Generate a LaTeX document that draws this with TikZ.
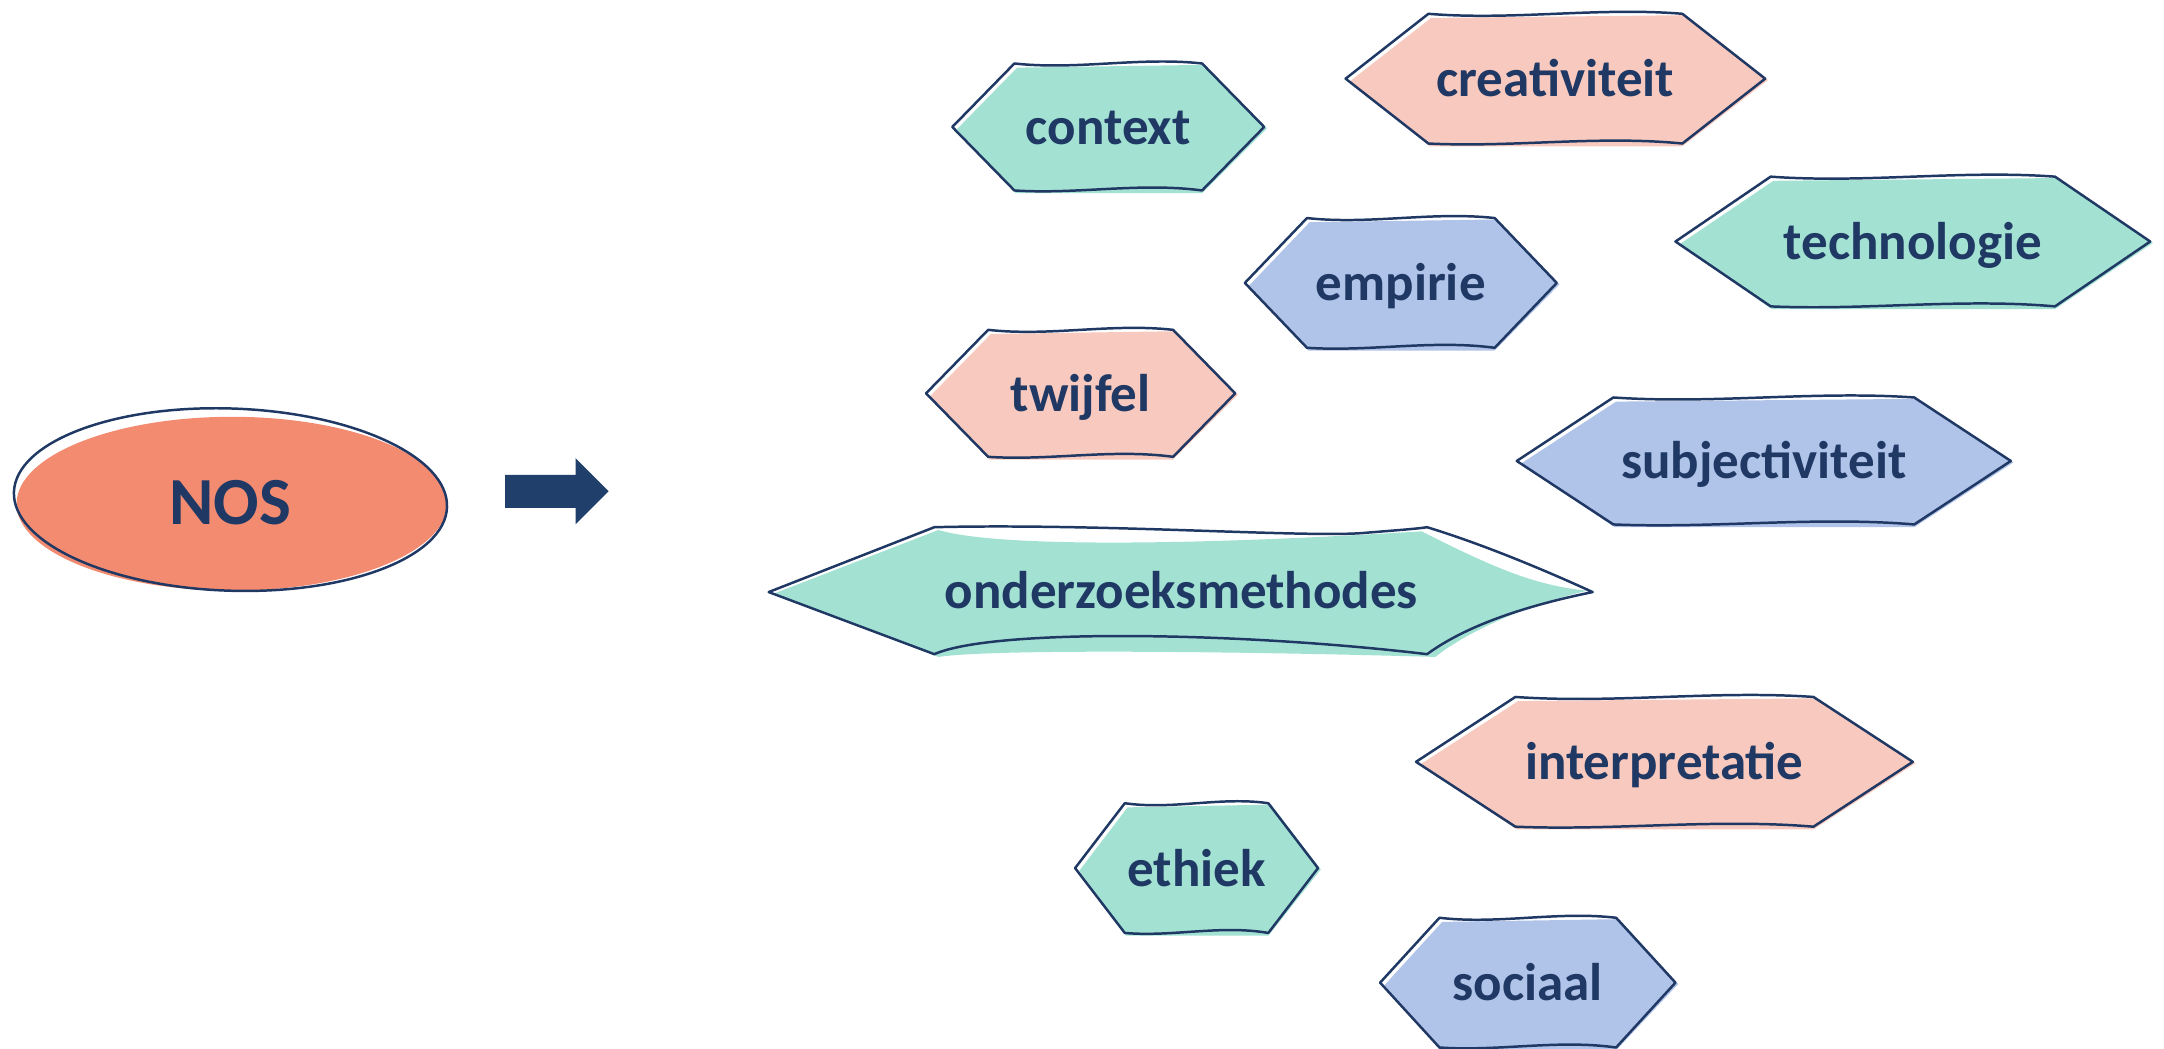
\documentclass[tikz,border=0pt]{standalone}
\usepackage{fontspec}
\setmainfont{Carlito}
\definecolor{navy}{HTML}{1F3864}
\definecolor{arrowc}{HTML}{203F6A}
\definecolor{salmon}{HTML}{F38B71}
\definecolor{pinkc}{HTML}{F8C9BE}
\definecolor{greenc}{HTML}{A3E2D3}
\definecolor{bluec}{HTML}{B0C3E8}
\tikzset{
  outl/.style={draw=navy, line width=0.9pt, line join=round},
  lbl/.style={anchor=base, inner sep=0pt, text=navy, font=\fontsize{19.2}{22}\selectfont\bfseries},
  noslbl/.style={anchor=base, inner sep=0pt, text=navy, font=\fontsize{24.4}{28}\selectfont\bfseries},
}
\newcommand{\hexnode}[8]{% #1 name, #2 cx, #3 cy, #4 w, #5 a, #6 h, #7 fill, #8 text
  \fill[#7] ({#2-#4+3},{#3+2}) -- ({#2-#5+2},{#3-#6+3}) -- ({#2+#5+2},{#3-#6+1}) -- ({#2+#4+2},{#3+1}) -- ({#2+#5},{#3+#6+2}) -- ({#2-#5+1},{#3+#6+2}) -- cycle;
  \draw[outl] ({#2-#4},{#3}) -- ({#2-#5},{#3-#6})
    .. controls ({#2-#5/3},{#3-#6+5}) and ({#2+#5/3},{#3-#6-5}) .. ({#2+#5},{#3-#6})
    -- ({#2+#4},{#3}) -- ({#2+#5},{#3+#6})
    .. controls ({#2+#5/3},{#3+#6-6}) and ({#2-#5/3},{#3+#6+3}) .. ({#2-#5},{#3+#6})
    -- cycle;
  \node[lbl] (#1) at (#2,{#3+13}) {#8};
}
\begin{document}
\begin{tikzpicture}[x=0.5pt,y=-0.5pt]
\useasboundingbox (0,0) rectangle (1568,759.4);
% NOS ellipse
\fill[salmon] (168,365) ellipse [x radius=156, y radius=63];
\draw[outl, rotate around={-2:(167,362)}] (167,362) ellipse [x radius=157, y radius=66];
\node[noslbl] (nos) at (167,380) {NOS};
% arrow
\coordinate (arrtail) at (366,356);
\coordinate (arrtip) at (441,356);
\fill[arrowc] (366,344) -- (417,344) -- (417,332) -- (arrtip) -- (417,380) -- (417,368) -- (366,368) -- cycle;
% hexagons
\hexnode{context}{803}{92}{113}{68}{46}{greenc}{context}
\hexnode{creativiteit}{1127}{57}{152}{92}{47}{pinkc}{creativiteit}
\hexnode{empirie}{1015}{205}{113}{68}{47}{bluec}{empirie}
\hexnode{technologie}{1386}{175}{172}{103}{47}{greenc}{technologie}
\hexnode{twijfel}{783}{285}{112}{67}{46}{pinkc}{twijfel}
\hexnode{subjectiviteit}{1278}{334}{179}{109}{46}{bluec}{subjectiviteit}
\hexnode{interpretatie}{1206}{552}{180}{108}{47}{pinkc}{interpretatie}
\hexnode{ethiek}{867}{629}{88}{52}{47}{greenc}{ethiek}
\hexnode{sociaal}{1107}{712}{107}{64}{47}{bluec}{sociaal}
% onderzoeksmethodes (hand-drawn, concave right side)
\fill[greenc] (561,430) -- (680,384) .. controls (720,396) and (850,396) .. (1030,385)
  .. controls (1080,410) and (1110,424) .. (1150,428)
  .. controls (1100,440) and (1060,460) .. (1040,476)
  .. controls (900,472) and (720,470) .. (680,476) -- cycle;
\draw[outl] (557,429) -- (677,382) .. controls (800,379) and (950,390) .. (990,386)
  .. controls (1015,384) and (1028,383) .. (1034,382)
  .. controls (1080,396) and (1130,418) .. (1154,429)
  .. controls (1100,440) and (1060,455) .. (1034,474)
  .. controls (900,458) and (720,455) .. (677,474) -- cycle;
\node[lbl] (onderzoeksmethodes) at (856,441) {onderzoeksmethodes};
\end{tikzpicture}
\end{document}
